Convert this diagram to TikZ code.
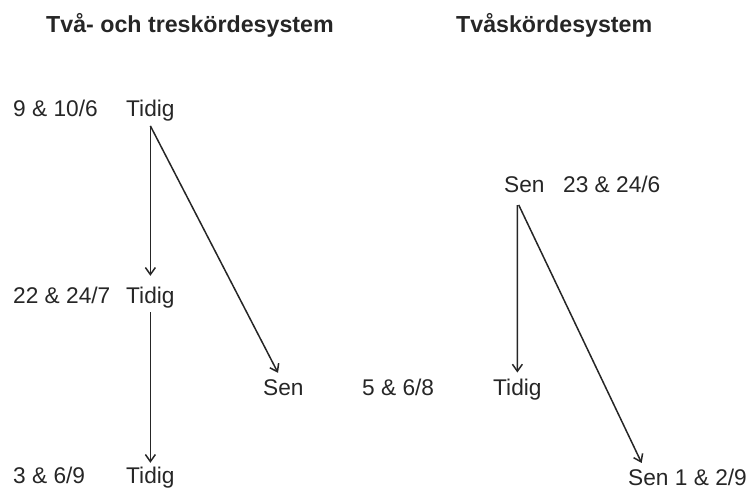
\documentclass[tikz,border=0pt]{standalone}
\usepackage{fontspec}
\setmainfont{Liberation Sans}
\usetikzlibrary{arrows.meta}
\tikzset{
  every node/.style={
    anchor=base west,inner xsep=0pt,inner ysep=4pt,
    text height=16pt,text depth=5pt,text=black!85,
    font=\fontsize{22.7}{26}\selectfont
  },
  heading/.style={font=\fontsize{23.2}{27}\selectfont\bfseries},
  harvest/.style={
    line width=1.5pt,black!85,
    -{Straight Barb[length=7pt,width=10pt,line width=1.5pt]}
  }
}

\begin{document}
\begin{tikzpicture}[x=1pt,y=-1pt]
\useasboundingbox (0,0) rectangle (755,489);
% two and three harvests
\node[heading] (headA) at (46,33) {Två- och treskördesystem};
\node (dateA1) at (13,116.7) {9 \& 10/6};
\node (earlyA1) at (126,116.7) {Tidig};
\node (dateA2) at (13,303) {22 \& 24/7};
\node (earlyA2) at (126,303) {Tidig};
\node (dateA3) at (13,483) {3 \& 6/9};
\node (earlyA3) at (126,483) {Tidig};
\node (lateA) at (263,395.7) {Sen};
\draw[harvest,shorten >=7pt] (earlyA1.south) -- (earlyA2.north);
\draw[harvest] (earlyA2.south) -- (earlyA3.north);
\draw[harvest,shorten >=3pt] (earlyA1.south) -- ([xshift=-4pt]lateA.north);
% two harvests
\node[heading] (headB) at (456,33) {Tvåskördesystem};
\node (lateB1) at (504,193) {Sen};
\node (dateB1) at (563,193) {23 \& 24/6};
\node (dateB2) at (362,395.7) {5 \& 6/8};
\node (earlyB) at (493,395.7) {Tidig};
\node (lateB2) at (628,485) {Sen 1 \& 2/9};
\draw[harvest,shorten <=3pt,shorten >=3pt] ([xshift=-7pt]lateB1.south) -- (earlyB.north);
\draw[harvest,shorten <=3pt,shorten >=2pt] ([xshift=-7pt]lateB1.south) -- ([xshift=-45pt]lateB2.north);
\end{tikzpicture}
\end{document}
